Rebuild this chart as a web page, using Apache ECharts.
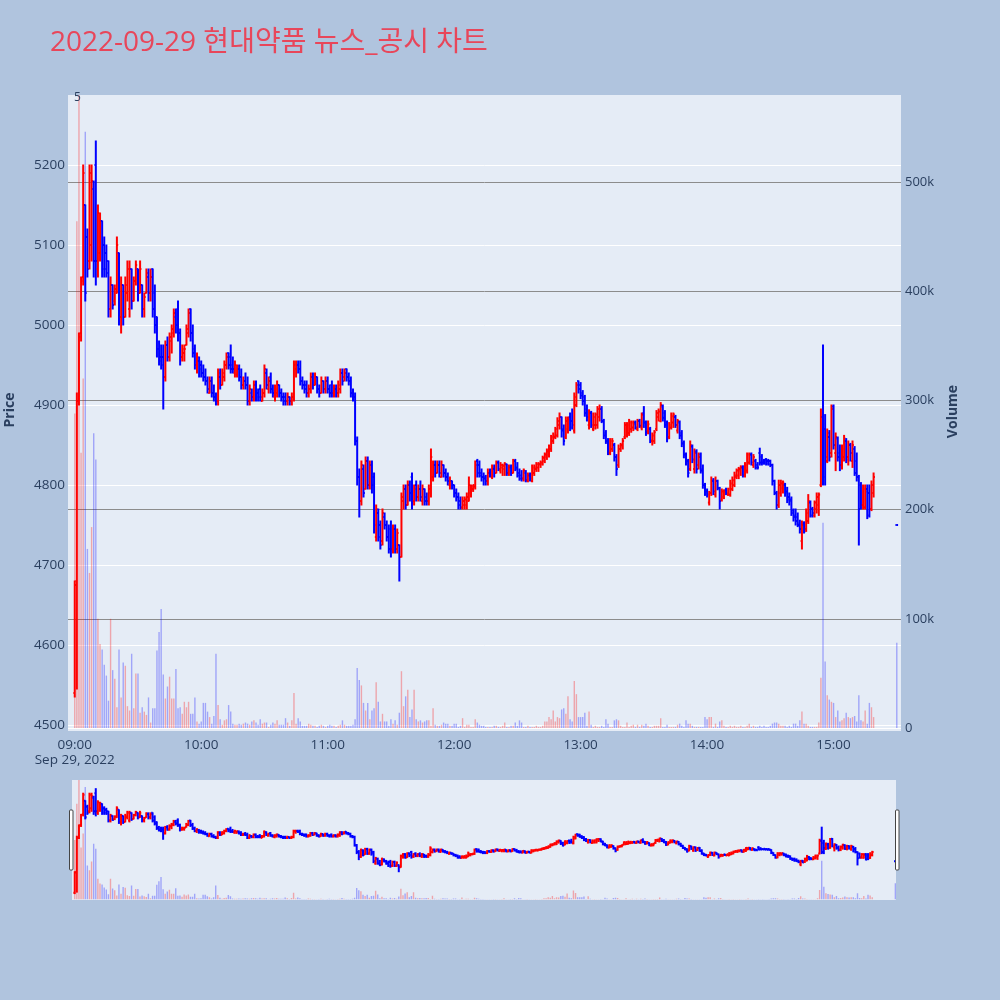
<!DOCTYPE html>
<html><head><meta charset="utf-8">
<script src="https://cdn.jsdelivr.net/npm/echarts@6/dist/echarts.min.js"></script>
<style>html,body{margin:0;padding:0;background:#b0c4de;}#c{width:1000px;height:1000px;}</style>
</head><body><div id="c"></div>
<script>
const titleText = '2022-09-29 현대약품 뉴스_공시 차트';
const tickMinutes = [0, 60, 120, 180, 240, 300, 360];
const tickLabels = ['09:00', '10:00', '11:00', '12:00', '13:00', '14:00', '15:00'];
const dateLabel = 'Sep 29, 2022';
// minute bars 09:00 .. 15:19 (index = minutes after 09:00)
const open = [
4540,4680,4905,4990,5060,5150,5110,5080,5100,5170,
5200,5070,5090,5130,5100,5090,5080,5020,5050,5030,
5040,5090,5010,5050,5010,5040,5020,5070,5030,5055,
5070,5040,5050,5020,5040,5060,5040,5070,5040,5010,
4970,4960,4960,4935,4975,4960,4980,4990,5010,5020,
4990,4960,4965,4975,4990,5020,4990,4970,4950,4955,
4950,4940,4935,4930,4915,4930,4915,4910,4905,4935,
4925,4935,4950,4965,4960,4950,4940,4938,4945,4935,
4925,4930,4925,4905,4915,4910,4925,4915,4920,4905,
4915,4940,4920,4935,4920,4910,4915,4925,4915,4910,
4910,4905,4910,4905,4910,4945,4950,4945,4930,4925,
4925,4915,4920,4935,4925,4935,4920,4915,4930,4920,
4930,4920,4925,4915,4920,4915,4920,4940,4935,4945,
4935,4930,4915,4910,4855,4810,4780,4820,4795,4830,
4800,4825,4810,4735,4765,4750,4730,4760,4750,4735,
4745,4720,4745,4720,4725,4710,4780,4795,4775,4800,
4810,4780,4800,4785,4795,4780,4795,4785,4780,4790,
4810,4825,4815,4825,4810,4825,4815,4810,4800,4805,
4800,4790,4785,4780,4772,4775,4775,4780,4790,4795,
4798,4830,4825,4815,4810,4810,4805,4815,4810,4820,
4815,4828,4818,4822,4820,4826,4815,4822,4815,4830,
4822,4815,4812,4808,4815,4806,4812,4805,4815,4820,
4822,4826,4826,4830,4835,4838,4845,4855,4860,4862,
4875,4885,4870,4860,4870,4885,4880,4868,4900,4930,
4925,4915,4910,4895,4875,4890,4870,4875,4875,4885,
4895,4880,4865,4855,4840,4845,4850,4835,4825,4845,
4848,4860,4862,4865,4870,4872,4878,4870,4880,4872,
4890,4878,4868,4870,4855,4855,4870,4885,4880,4898,
4890,4878,4860,4872,4878,4885,4868,4878,4865,4852,
4838,4830,4820,4848,4820,4842,4825,4838,4820,4800,
4792,4778,4790,4805,4788,4805,4796,4782,4785,4794,
4788,4788,4795,4800,4810,4812,4818,4822,4812,4818,
4828,4838,4825,4830,4825,4840,4835,4830,4832,4830,
4830,4825,4805,4790,4775,4790,4796,4800,4792,4785,
4782,4768,4762,4760,4752,4730,4752,4745,4755,4778,
4770,4762,4770,4775,4800,4885,4870,4830,4860,4840,
4898,4840,4858,4840,4825,4835,4855,4835,4850,4830,
4845,4830,4810,4800,4775,4772,4795,4790,4770,4790];
const high = [
4680,4915,4990,5060,5200,5150,5120,5200,5200,5180,
5230,5150,5140,5130,5110,5100,5080,5060,5050,5050,
5110,5090,5060,5050,5060,5080,5080,5070,5060,5080,
5070,5080,5050,5040,5070,5070,5070,5070,5050,5010,
4980,4975,4975,4980,4985,4990,5000,5020,5020,5030,
4995,4975,4975,5000,5020,5020,5000,4975,4965,4960,
4955,4950,4945,4935,4935,4935,4925,4915,4945,4945,
4945,4955,4965,4965,4975,4960,4955,4950,4950,4945,
4935,4940,4935,4925,4920,4930,4930,4920,4925,4920,
4950,4945,4935,4940,4925,4925,4930,4925,4920,4915,
4915,4915,4910,4915,4955,4955,4955,4955,4935,4930,
4930,4925,4940,4940,4940,4935,4925,4935,4930,4935,
4935,4925,4930,4925,4925,4930,4945,4945,4945,4945,
4940,4935,4920,4915,4860,4820,4830,4825,4835,4835,
4830,4830,4815,4775,4770,4755,4770,4765,4755,4750,
4755,4750,4750,4745,4725,4790,4800,4800,4805,4805,
4815,4800,4805,4800,4805,4800,4795,4790,4800,4845,
4830,4830,4830,4830,4830,4825,4820,4815,4810,4805,
4800,4795,4790,4785,4785,4785,4790,4810,4800,4800,
4830,4832,4830,4820,4815,4812,4820,4820,4825,4825,
4830,4830,4828,4826,4828,4826,4825,4825,4832,4832,
4828,4820,4818,4820,4818,4815,4815,4825,4825,4828,
4828,4830,4836,4840,4845,4850,4862,4865,4872,4884,
4890,4885,4875,4885,4885,4890,4895,4915,4928,4930,
4928,4918,4912,4900,4894,4892,4890,4890,4898,4900,
4898,4882,4868,4858,4858,4858,4852,4838,4850,4852,
4858,4878,4878,4882,4880,4880,4880,4882,4882,4890,
4898,4880,4880,4872,4865,4868,4893,4895,4903,4900,
4893,4880,4878,4890,4890,4887,4882,4880,4868,4855,
4840,4832,4855,4850,4845,4844,4840,4840,4825,4802,
4795,4792,4810,4808,4810,4806,4797,4795,4794,4796,
4796,4806,4810,4816,4820,4822,4824,4824,4828,4840,
4840,4840,4838,4832,4828,4846,4838,4832,4833,4832,
4831,4826,4806,4792,4806,4806,4805,4802,4797,4790,
4785,4770,4770,4765,4756,4755,4754,4770,4788,4780,
4772,4780,4790,4790,4895,4975,4888,4870,4868,4900,
4900,4865,4860,4850,4850,4862,4858,4855,4852,4855,
4848,4840,4812,4803,4800,4800,4800,4800,4805,4815];
const low = [
4535,4545,4900,4980,5050,5030,5060,5070,5080,5060,
5050,5060,5080,5060,5060,5060,5010,5010,5020,5025,
5040,5000,4990,5000,5010,5030,5010,5020,5030,5050,
5030,5040,5010,5010,5040,5030,5030,5010,4990,4960,
4950,4945,4895,4930,4955,4955,4965,4985,4990,4980,
4950,4955,4955,4975,4985,4980,4960,4945,4940,4935,
4935,4930,4925,4915,4915,4910,4905,4900,4900,4920,
4925,4930,4945,4945,4940,4940,4935,4935,4930,4920,
4920,4920,4900,4900,4905,4905,4905,4905,4905,4905,
4910,4920,4915,4915,4910,4905,4910,4910,4905,4900,
4900,4900,4900,4900,4905,4935,4940,4925,4920,4915,
4910,4910,4915,4920,4925,4915,4910,4915,4915,4915,
4915,4910,4910,4910,4910,4910,4915,4925,4930,4930,
4925,4910,4905,4850,4800,4760,4775,4785,4795,4795,
4795,4790,4740,4730,4730,4720,4725,4745,4730,4715,
4710,4715,4715,4715,4680,4710,4770,4770,4775,4780,
4770,4775,4780,4780,4780,4775,4775,4775,4775,4785,
4805,4810,4815,4810,4810,4810,4805,4800,4795,4795,
4785,4780,4770,4770,4770,4770,4770,4780,4785,4792,
4795,4810,4810,4805,4800,4800,4800,4810,4808,4810,
4815,4818,4815,4812,4812,4812,4812,4812,4815,4818,
4810,4806,4805,4805,4804,4804,4805,4804,4812,4817,
4817,4822,4825,4828,4832,4835,4842,4852,4858,4860,
4870,4860,4850,4858,4865,4868,4870,4865,4898,4915,
4908,4900,4886,4880,4870,4872,4868,4870,4871,4880,
4878,4858,4852,4838,4838,4842,4830,4812,4822,4842,
4845,4858,4860,4862,4866,4868,4870,4868,4872,4869,
4872,4862,4864,4853,4850,4852,4868,4880,4879,4880,
4872,4854,4858,4870,4872,4872,4865,4858,4848,4834,
4825,4810,4818,4828,4815,4815,4820,4815,4796,4787,
4785,4775,4787,4788,4785,4794,4770,4780,4783,4788,
4787,4786,4793,4798,4808,4808,4812,4810,4810,4815,
4826,4825,4822,4820,4820,4825,4825,4826,4825,4825,
4823,4800,4788,4770,4772,4786,4790,4786,4778,4775,
4762,4755,4750,4748,4740,4720,4740,4742,4752,4760,
4760,4760,4765,4762,4798,4800,4800,4828,4830,4835,
4845,4818,4830,4818,4820,4830,4828,4825,4830,4822,
4812,4805,4725,4770,4770,4770,4758,4760,4768,4785];
const close = [
4675,4905,4985,5055,5190,5040,5070,5190,5180,5080,
5080,5140,5130,5070,5070,5065,5020,5050,5025,5045,
5100,5010,5050,5010,5050,5070,5070,5030,5055,5075,
5040,5070,5020,5035,5065,5040,5060,5020,5000,4970,
4955,4950,4935,4975,4960,4985,4995,5015,5000,4990,
4960,4970,4970,4995,5015,4990,4965,4950,4960,4945,
4940,4935,4930,4920,4930,4915,4910,4905,4940,4925,
4940,4950,4960,4950,4945,4945,4950,4948,4935,4925,
4930,4925,4905,4920,4910,4925,4910,4910,4910,4915,
4945,4925,4930,4920,4915,4920,4925,4915,4910,4905,
4905,4910,4905,4910,4950,4950,4945,4930,4925,4920,
4915,4920,4935,4925,4935,4920,4915,4930,4920,4930,
4920,4915,4915,4920,4915,4925,4940,4930,4940,4935,
4930,4915,4910,4855,4810,4780,4825,4790,4830,4800,
4825,4800,4750,4770,4735,4725,4765,4750,4735,4720,
4720,4745,4720,4740,4710,4785,4795,4775,4800,4790,
4780,4795,4785,4795,4785,4795,4780,4780,4795,4835,
4825,4815,4825,4815,4825,4815,4810,4805,4805,4800,
4790,4785,4775,4772,4780,4782,4785,4800,4798,4800,
4825,4815,4812,4810,4808,4805,4815,4812,4822,4815,
4828,4820,4825,4824,4826,4815,4822,4815,4830,4820,
4812,4808,4808,4818,4806,4812,4808,4822,4822,4826,
4826,4828,4834,4838,4842,4848,4860,4862,4870,4880,
4885,4868,4855,4880,4882,4872,4875,4910,4925,4920,
4912,4905,4890,4885,4890,4875,4885,4888,4895,4895,
4880,4862,4855,4842,4855,4855,4835,4820,4845,4850,
4855,4875,4875,4878,4878,4876,4872,4880,4874,4888,
4878,4866,4876,4856,4862,4866,4890,4892,4900,4884,
4875,4858,4875,4886,4888,4875,4880,4862,4852,4838,
4828,4815,4850,4832,4840,4820,4835,4818,4800,4790,
4788,4790,4806,4792,4805,4796,4780,4792,4792,4790,
4795,4802,4806,4812,4818,4820,4822,4812,4825,4838,
4838,4828,4835,4822,4822,4828,4828,4828,4827,4826,
4825,4805,4790,4775,4800,4802,4803,4790,4782,4780,
4765,4760,4755,4750,4745,4750,4742,4765,4780,4762,
4765,4778,4785,4788,4885,4810,4835,4865,4835,4895,
4850,4860,4835,4825,4845,4858,4832,4850,4840,4850,
4815,4810,4770,4775,4795,4792,4762,4770,4800,4810];
// volume in thousands of shares
const volume = [
288,464,640,252,320,546,164,142,184,270,
246,100,77,72,58,48,25,100,53,45,
19,72,28,60,57,20,16,68,18,50,
50,14,19,15,12,28,5,18,18,71,
88,109,49,27,38,47,27,27,54,18,
19,13,24,19,24,13,13,28,6,4,
6,23,23,15,10,4,11,68,21,8,
3,7,8,21,15,4,3,3,4,3,
4,5,4,3,6,7,5,3,8,4,
5,5,1,3,5,4,7,3,3,3,
9,5,2,7,32,4,9,6,2,2,
2,4,3,2,2,1,2,3,2,1,
2,3,2,2,1,2,3,7,3,2,
2,2,3,8,55,44,39,23,16,23,
8,16,18,42,24,6,13,6,6,2,
8,4,7,3,14,52,20,29,35,10,
17,35,8,6,7,5,6,7,7,2,
18,3,2,2,3,5,4,4,2,2,
4,4,1,2,9,1,3,3,1,1,
8,5,3,2,2,1,1,1,1,2,
2,1,1,2,5,1,1,2,2,5,
2,7,5,1,1,2,1,1,1,2,
1,1,2,6,6,10,8,16,6,10,
9,17,18,13,29,8,6,43,31,10,
10,10,14,2,15,3,1,2,1,1,
2,1,8,4,1,1,7,8,7,2,
1,1,5,1,2,3,1,3,1,3,
2,4,2,1,1,2,2,2,9,1,
1,3,1,1,1,1,3,4,2,1,
7,4,4,2,1,1,1,1,1,10,
8,10,10,1,4,1,6,7,2,1,
1,2,1,2,1,1,2,1,1,2,
4,1,2,1,1,2,1,2,1,1,
2,4,5,5,4,2,2,2,1,2,
1,4,4,2,7,15,4,4,2,1,
1,1,1,5,46,188,61,30,26,24,
23,10,16,6,7,9,14,10,9,10,
11,6,30,7,6,16,4,23,19,10];
// closing auction print at 15:30
const auctionMinute = 390, auctionPrice = 4750, auctionVolume = 78;

const minutes = open.map((_, i) => i).concat([auctionMinute]);
const O = open.concat([auctionPrice]), H = high.concat([auctionPrice]);
const L = low.concat([auctionPrice]), C = close.concat([auctionPrice]);
const V = volume.concat([auctionVolume]);
const ohlcData = minutes.map((m, i) => [m, O[i], H[i], L[i], C[i]]);
const volData = minutes.map((m, i) => [m, V[i], C[i] > O[i] ? 1 : 0]);

const FONT = '"Open Sans", "Noto Sans CJK KR", sans-serif';
const TXT = '#2a3f5f';

function ohlcItem(params, api) {
  const t = api.value(0), o = api.value(1), h = api.value(2), l = api.value(3), c = api.value(4);
  const pH = api.coord([t, h]), pL = api.coord([t, l]), pO = api.coord([t, o]), pC = api.coord([t, c]);
  const col = c > o ? '#ff0000' : '#0000ff';
  const x = pH[0], tk = 1.3;
  return { type: 'group', children: [
    { type: 'line', shape: { x1: x, y1: pH[1] - 0.5, x2: x, y2: pL[1] + 0.5 }, style: { stroke: col, lineWidth: 2 } },
    { type: 'line', shape: { x1: x - tk, y1: pO[1], x2: x, y2: pO[1] }, style: { stroke: col, lineWidth: 2 } },
    { type: 'line', shape: { x1: x, y1: pC[1], x2: x + tk, y2: pC[1] }, style: { stroke: col, lineWidth: 2 } }
  ]};
}
function volItem(params, api) {
  const t = api.value(0), v = api.value(1), up = api.value(2);
  const p0 = api.coord([t, 0]), p1 = api.coord([t, v]);
  const top = Math.max(p1[1], params.coordSys.y);
  return { type: 'rect', shape: { x: p0[0] - 0.7, y: top, width: 1.4, height: p0[1] - top },
    style: { fill: up ? 'rgba(255,0,0,0.3)' : 'rgba(0,0,255,0.3)' } };
}

const MAIN_X = [-3.2, 392];
const SL_X = [-1.3, 390.3];
const hiddenX = (g, r) => ({ type: 'value', gridIndex: g, min: r[0], max: r[1], show: false });
const hiddenY = (g, mn, mx) => ({ type: 'value', gridIndex: g, min: mn, max: mx, show: false });
const G = { outerBoundsMode: 'none', containLabel: false };

const option = {
  backgroundColor: '#b0c4de',
  animation: false,
  title: { text: titleText, left: 45, top: 24, textStyle: { color: '#e8465a', fontSize: 28, fontWeight: 'normal', fontFamily: FONT } },
  graphic: [
    { type: 'rect', z: -10, shape: { x: 68, y: 95, width: 833, height: 636 }, style: { fill: '#e5ecf6' } },
    { type: 'rect', z: -10, shape: { x: 72, y: 780, width: 824, height: 120 }, style: { fill: '#e5ecf6' } },
    { type: 'rect', z: 10, shape: { x: 69.5, y: 810, width: 3.5, height: 60, r: 1 }, style: { fill: '#ffffff', stroke: '#444', lineWidth: 1 } },
    { type: 'rect', z: 10, shape: { x: 895.5, y: 810, width: 3.5, height: 60, r: 1 }, style: { fill: '#ffffff', stroke: '#444', lineWidth: 1 } },
    { type: 'text', z: 10, style: { x: 77.5, y: 98, text: '5', fill: TXT, font: '12px ' + FONT, textAlign: 'center', textVerticalAlign: 'middle' } }
  ],
  grid: [
    Object.assign({ left: 68, width: 833, top: 95, height: 630 }, G),
    Object.assign({ left: 68, width: 833, top: 95, height: 633 }, G),
    Object.assign({ left: 72, width: 824, top: 780, height: 118.9 }, G),
    Object.assign({ left: 72, width: 824, top: 780, height: 119.4 }, G)
  ],
  xAxis: [
    hiddenX(0, MAIN_X),
    { type: 'value', gridIndex: 1, min: MAIN_X[0], max: MAIN_X[1],
      axisLine: { show: false }, axisTick: { show: false }, splitLine: { show: false },
      axisLabel: { customValues: tickMinutes, margin: 10, color: TXT, fontSize: 13.5, fontFamily: FONT, lineHeight: 15,
        formatter: (v) => { const k = tickMinutes.indexOf(Math.round(v)); if (k < 0) return ''; return k === 0 ? tickLabels[k] + '\n' + dateLabel : tickLabels[k]; } } },
    hiddenX(2, SL_X),
    hiddenX(3, SL_X)
  ],
  yAxis: [
    { type: 'value', gridIndex: 0, position: 'left', min: 4500, max: 5287.5, interval: 100,
      axisLine: { show: false }, axisTick: { show: false },
      axisLabel: { margin: 3, color: TXT, fontSize: 13.5, fontFamily: FONT, showMaxLabel: false, formatter: (v) => String(v) },
      splitLine: { show: true, showMaxLine: false, lineStyle: { color: '#ffffff', width: 1 } },
      name: 'Price', nameLocation: 'middle', nameRotate: 90, nameGap: 51, nameMoveOverlap: false,
      nameTextStyle: { color: TXT, fontSize: 14, fontWeight: 'bold', fontFamily: FONT } },
    { type: 'value', gridIndex: 1, position: 'right', min: 0, max: 579.7, interval: 100,
      axisLine: { show: false }, axisTick: { show: false },
      axisLabel: { margin: 4, color: TXT, fontSize: 13, fontFamily: FONT, showMaxLabel: false,
        formatter: (v) => v === 0 ? '0' : v + 'k' },
      splitLine: { show: true, showMaxLine: false, lineStyle: { color: ['#ffffff', '#8c8c8c', '#8c8c8c', '#8c8c8c', '#8c8c8c', '#8c8c8c', '#8c8c8c'], width: 1 } },
      name: 'Volume', nameLocation: 'middle', nameRotate: 90, nameGap: 45, nameMoveOverlap: false,
      nameTextStyle: { color: TXT, fontSize: 14, fontWeight: 'bold', fontFamily: FONT } },
    hiddenY(2, 4500, 5287.5),
    hiddenY(3, 0, 579.7)
  ],
  series: [
    { type: 'custom', xAxisIndex: 1, yAxisIndex: 1, data: volData, renderItem: volItem, clip: true, z: 2, silent: true },
    { type: 'custom', xAxisIndex: 0, yAxisIndex: 0, data: ohlcData, renderItem: ohlcItem, clip: true, z: 3, silent: true,
      encode: { x: 0, y: [1, 2, 3, 4] } },
    { type: 'custom', xAxisIndex: 3, yAxisIndex: 3, data: volData, renderItem: volItem, clip: true, z: 2, silent: true },
    { type: 'custom', xAxisIndex: 2, yAxisIndex: 2, data: ohlcData, renderItem: ohlcItem, clip: true, z: 3, silent: true,
      encode: { x: 0, y: [1, 2, 3, 4] } }
  ]
};
const chart = echarts.init(document.getElementById('c'), null, { renderer: 'canvas' });
chart.setOption(option);
</script></body></html>
